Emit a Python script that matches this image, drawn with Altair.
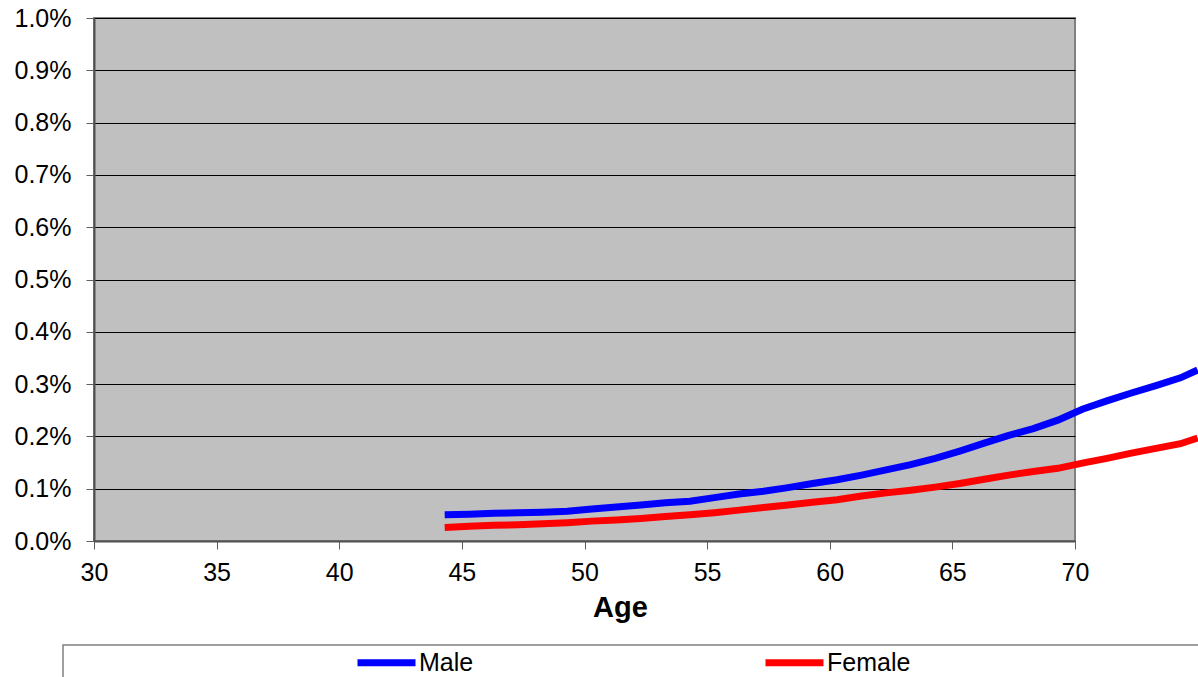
import altair as alt
import pandas as pd

# Age points of each series
ages = [44.3, 45.3, 46.3, 47.3, 48.3, 49.3, 50.3, 51.3, 52.3, 53.3,
        54.3, 55.3, 56.3, 57.3, 58.3, 59.3, 60.3, 61.3, 62.3, 63.3,
        64.3, 65.3, 66.3, 67.3, 68.3, 69.3, 70.3, 71.3, 72.3, 73.3,
        74.3, 75.0]

# Rates in percent
male_pct = [0.050, 0.051, 0.053, 0.054, 0.055, 0.057, 0.061, 0.065, 0.069, 0.073,
            0.076, 0.083, 0.090, 0.095, 0.102, 0.110, 0.117, 0.126, 0.136, 0.146,
            0.158, 0.172, 0.187, 0.202, 0.215, 0.231, 0.252, 0.268, 0.283, 0.297,
            0.312, 0.327]
female_pct = [0.026, 0.028, 0.030, 0.031, 0.033, 0.035, 0.038, 0.040, 0.043, 0.047,
              0.050, 0.054, 0.059, 0.064, 0.069, 0.074, 0.079, 0.086, 0.092, 0.097,
              0.103, 0.110, 0.118, 0.126, 0.133, 0.139, 0.149, 0.158, 0.168, 0.177,
              0.186, 0.197]

series = ["Male", "Female"]
series_colors = ["#0000FF", "#FF0000"]

x_ticks = [30, 35, 40, 45, 50, 55, 60, 65, 70]
y_ticks = [i / 1000 for i in range(0, 11)]

rows = []
for name, vals in zip(series, [male_pct, female_pct]):
    for a, v in zip(ages, vals):
        rows.append({"Age": a, "Rate": v / 100, "Series": name})
df = pd.DataFrame(rows)

font = "Liberation Sans"

# legend frame behind the legend entries
frame = alt.Chart(pd.DataFrame({"k": [0]})).mark_rect(
    fill="white", stroke="#808080", strokeWidth=1.5, clip=False
).encode(
    x=alt.value(-31), x2=alt.value(1150),
    y=alt.value(627), y2=alt.value(720),
)

lines = alt.Chart(df).mark_line(strokeWidth=7, clip=False).encode(
    x=alt.X("Age:Q",
            scale=alt.Scale(domain=[30, 70], nice=False, zero=False),
            axis=alt.Axis(values=x_ticks, title="Age", grid=False,
                          titleX=526, titleY=66, titleBaseline="middle",
                          titleAlign="center", titleFontSize=29,
                          titleFontWeight="bold", titleFont=font,
                          labelPadding=11, labelFlush=False)),
    y=alt.Y("Rate:Q",
            scale=alt.Scale(domain=[0, 0.01], nice=False),
            axis=alt.Axis(values=y_ticks, format=".1%", title=None,
                          grid=True, labelPadding=15, labelFlush=False)),
    color=alt.Color("Series:N",
                    scale=alt.Scale(domain=series, range=series_colors),
                    legend=alt.Legend(title=None, orient="none",
                                      legendX=260, legendY=612,
                                      direction="horizontal",
                                      symbolType="stroke",
                                      symbolStrokeWidth=7,
                                      symbolSize=3364,
                                      labelOffset=0,
                                      columnPadding=277,
                                      padding=0,
                                      labelFontSize=25,
                                      labelFont=font,
                                      labelColor="black")),
    order="Age:Q",
    detail="Series:N",
)

chart = alt.layer(frame, lines).properties(
    width=981, height=523,
    autosize=alt.AutoSizeParams(type="none"),
    padding={"left": 94, "top": 18, "right": 123, "bottom": 136},
    background="white",
).configure_view(
    fill="#C0C0C0", stroke="#808080", strokeWidth=2
).configure_axis(
    labelFont=font, labelFontSize=25, labelColor="black",
    domainColor="#505050", domainWidth=2,
    tickColor="#606060", tickSize=8, tickWidth=1,
    gridColor="black", gridWidth=1, gridOpacity=1,
)

chart.save("out.html", embed_options={"renderer": "svg", "actions": False})
